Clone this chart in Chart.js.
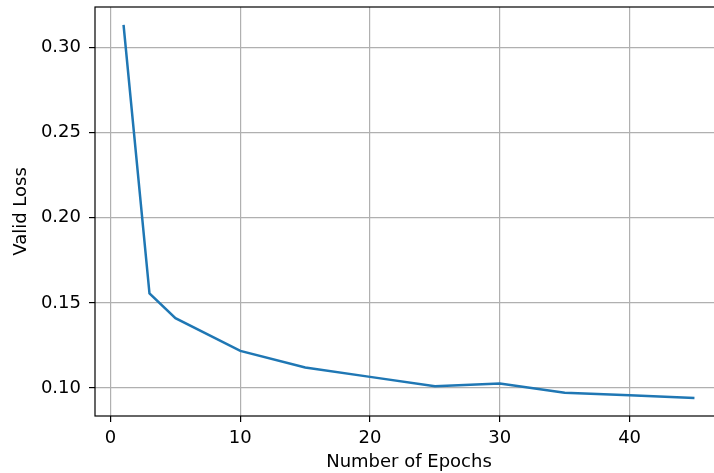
<!DOCTYPE html>
<html>
<head>
<meta charset="utf-8">
<script src="https://cdn.jsdelivr.net/npm/chart.js@4"></script>
<style>
  html, body { margin: 0; padding: 0; overflow: hidden; background: #fff; }
</style>
</head>
<body>
<canvas id="myChart" width="730" height="473"></canvas>
<script>
// epochs and validation loss
var epochs = [1, 3, 5, 10, 15, 20, 25, 30, 35, 40, 45];
var validLoss = [0.3134, 0.1555, 0.141, 0.1218, 0.112, 0.1065, 0.101, 0.1026, 0.0971, 0.0957, 0.0941];
var xTicks = [0, 10, 20, 30, 40];
var yTicks = [0.10, 0.15, 0.20, 0.25, 0.30];

var points = epochs.map(function (e, i) { return { x: e, y: validLoss[i] }; });

// matplotlib style frame around the plot area
var frame = {
    id: 'frame',
    afterDraw: function (chart) {
        var a = chart.chartArea, c = chart.ctx;
        c.save();
        c.strokeStyle = '#000';
        c.lineWidth = 1.2;
        c.strokeRect(a.left, a.top, a.right - a.left, a.bottom - a.top);
        c.restore();
    }
};

var font = { family: 'DejaVu Sans', size: 18 };

var ctx = document.getElementById("myChart");
var myChart = new Chart(ctx, {
    type: 'line',
    data: {
        datasets: [{
            data: points,
            borderColor: '#1f77b4',
            borderWidth: 2.5,
            pointRadius: 0,
            fill: false,
            tension: 0
        }]
    },
    options: {
        responsive: false,
        animation: false,
        layout: { padding: { top: 7, right: 7, left: 0, bottom: 0 } },
        plugins: { legend: { display: false }, tooltip: { enabled: false } },
        scales: {
            x: {
                type: 'linear',
                min: -1.2,
                max: 47.2,
                afterBuildTicks: function (s) { s.ticks = xTicks.map(function (v) { return { value: v }; }); },
                afterFit: function (s) { s.height = 57; s.paddingLeft = 0; s.paddingRight = 0; },
                border: { display: false },
                grid: { color: '#b0b0b0', lineWidth: 1.2, tickColor: '#000', tickLength: 6 },
                ticks: { color: '#000', font: font, padding: 6, maxRotation: 0 },
                title: { display: true, text: 'Number of Epochs', color: '#000', font: font, padding: { top: 0, bottom: 0 } }
            },
            y: {
                min: 0.0835,
                max: 0.3239,
                afterBuildTicks: function (s) { s.ticks = yTicks.map(function (v) { return { value: v }; }); },
                afterFit: function (s) { s.width = 95; s.paddingTop = 0; s.paddingBottom = 0; },
                border: { display: false },
                grid: { color: '#b0b0b0', lineWidth: 1.2, tickColor: '#000', tickLength: 6 },
                ticks: { color: '#000', font: font, padding: 8, callback: function (v) { return v.toFixed(2); } },
                title: { display: true, text: 'Valid Loss', color: '#000', font: font, padding: { top: 11, bottom: 0 } }
            }
        }
    },
    plugins: [frame]
});
</script>
</body>
</html>
